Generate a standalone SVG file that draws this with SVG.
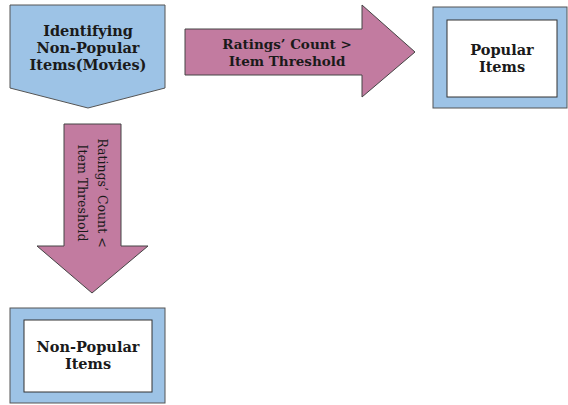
<svg xmlns="http://www.w3.org/2000/svg" width="568" height="405" viewBox="0 0 568 405">
<style>
.blue{fill:#9dc3e6;stroke:#555;stroke-width:1}
.white{fill:#fff;stroke:#333;stroke-width:1}
.pink{fill:#c27ba0;stroke:#444;stroke-width:1}
.t{font-family:"DejaVu Serif","Liberation Serif",serif;font-weight:bold;font-size:14.5px;fill:#1a1a1a;text-anchor:middle}
.ta{font-size:13.5px}
.tv{font-family:"DejaVu Serif","Liberation Serif",serif;font-size:12.5px;fill:#1a1a1a;text-anchor:middle}
</style>
<rect width="568" height="405" fill="#fff"/>
<g id="identify">
<polygon class="blue" points="10,5 165,5 165,88 88,108 10,88"/>
<text class="t" x="88" y="36">Identifying</text>
<text class="t" x="88" y="53">Non-Popular</text>
<text class="t" x="88" y="70">Items(Movies)</text>
</g>
<g id="popular">
<rect class="blue" x="433" y="7" width="134" height="101"/>
<rect class="white" x="447" y="20" width="110" height="77"/>
<text class="t" x="502" y="55">Popular</text>
<text class="t" x="502" y="72">Items</text>
</g>
<g id="nonpopular">
<rect class="blue" x="10" y="308" width="155" height="95"/>
<rect class="white" x="24" y="320" width="128" height="72"/>
<text class="t" x="88" y="352">Non-Popular</text>
<text class="t" x="88" y="369">Items</text>
</g>
<g id="connectors">
<g id="arrow-right">
<polygon class="pink" points="185,29 362,29 362,5 415,52 362,97 362,75 185,75"/>
<text class="t ta" x="287" y="49">Ratings’ Count &gt;</text>
<text class="t ta" x="287" y="66">Item Threshold</text>
</g>
<g id="arrow-down">
<polygon class="pink" points="64,124 121,124 121,246 148,246 92,293 37,246 64,246"/>
<g transform="translate(92,193) rotate(90)">
<text class="tv" x="0" y="-6">Ratings’ Count &lt;</text>
<text class="tv" x="0" y="14">Item Threshold</text>
</g>
</g>
</g>
</svg>
